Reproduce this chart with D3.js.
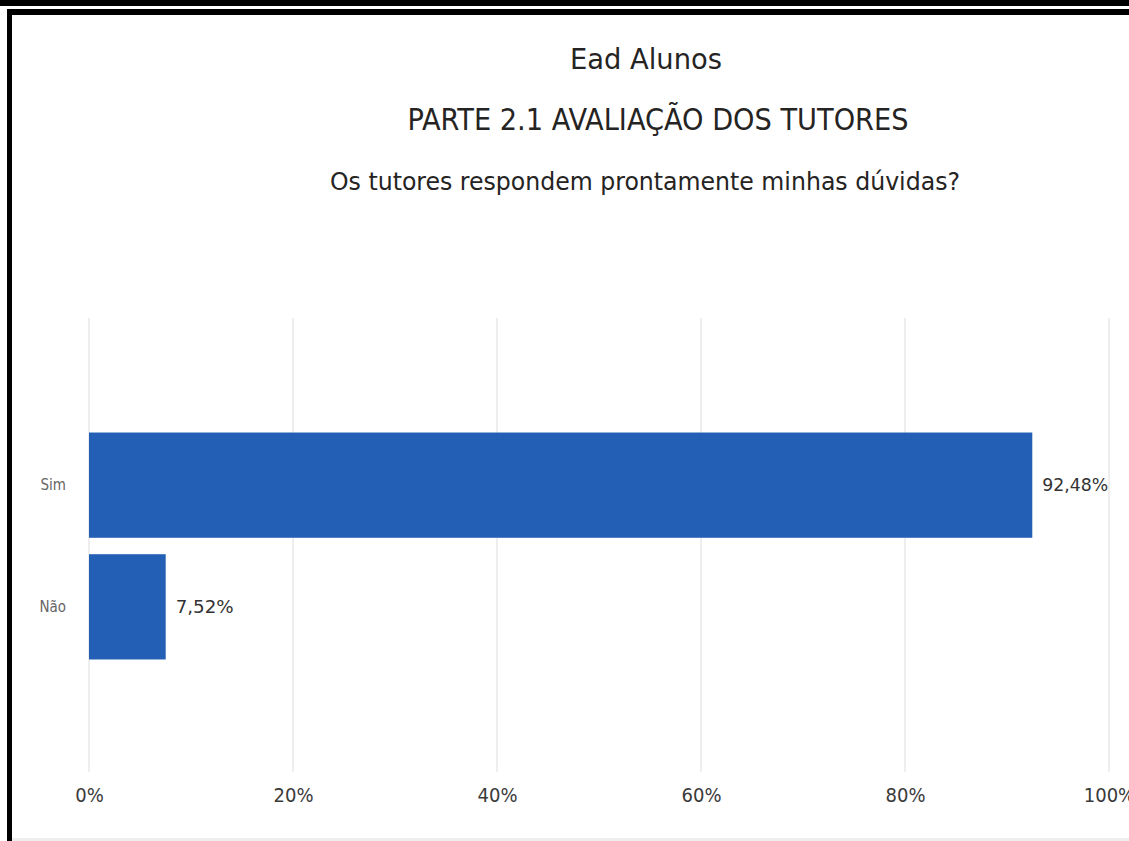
<!DOCTYPE html>
<html><head><meta charset="utf-8">
<script src="https://cdn.jsdelivr.net/npm/d3@7"></script>
<style>body{margin:0;background:#fff}svg{display:block}</style>
</head><body>
<svg id="c" width="1129" height="841"></svg>
<script>
const categories = ["Sim", "Não"];
const values = [92.48, 7.52];
const valueLabels = ["92,48%", "7,52%"];
const ticks = [0, 20, 40, 60, 80, 100];
const titles = ["Ead Alunos", "PARTE 2.1 AVALIAÇÃO DOS TUTORES", "Os tutores respondem prontamente minhas dúvidas?"];

const svg = d3.select("#c");
const font = "'DejaVu Sans Condensed','DejaVu Sans',sans-serif";

// frame
svg.append("rect").attr("x",0).attr("y",0).attr("width",1129).attr("height",6).attr("fill","#000");
svg.append("rect").attr("x",7).attr("y",9).attr("width",1122).attr("height",6).attr("fill","#000");
svg.append("rect").attr("x",7).attr("y",9).attr("width",5).attr("height",832).attr("fill","#000");
svg.append("rect").attr("x",12).attr("y",838).attr("width",1117).attr("height",3).attr("fill","#eee");

const x = d3.scaleLinear().domain([0,100]).range([89,1109]);
const y = d3.scaleBand().domain(categories).range([424,668]).paddingInner(0.135).paddingOuter(0.07);

// titles
const tdata = [
  {t:titles[0], x:646, y:69, s:29, w:152},
  {t:titles[1], x:658, y:130, s:30, w:501},
  {t:titles[2], x:645, y:190, s:24, w:630}
];
svg.selectAll("text.title").data(tdata).join("text").attr("class","title")
  .attr("x",d=>d.x).attr("y",d=>d.y).attr("text-anchor","middle")
  .attr("font-family",font).attr("font-size",d=>d.s).attr("fill","#252423")
  .attr("textLength",d=>d.w).attr("lengthAdjust","spacingAndGlyphs")
  .text(d=>d.t);

// gridlines
svg.selectAll("line.grid").data(ticks).join("line").attr("class","grid")
  .attr("x1",d=>x(d)).attr("x2",d=>x(d)).attr("y1",318).attr("y2",772)
  .attr("stroke","#e9e9e9").attr("stroke-width",1.5);

// x axis labels
const xa = svg.append("g").attr("transform","translate(0,802)")
  .call(d3.axisBottom(x).tickValues(ticks).tickSize(0).tickPadding(0).tickFormat(d=>d+"%"));
xa.select(".domain").remove();
xa.selectAll("text").attr("font-family",font).attr("font-size",20).attr("fill","#3a3a3a").attr("dy",0);

// bars
svg.selectAll("rect.bar").data(values).join("rect").attr("class","bar")
  .attr("x",x(0)).attr("y",(d,i)=>y(categories[i]))
  .attr("width",d=>x(d)-x(0)).attr("height",y.bandwidth()).attr("fill","#235fb4");

// category labels
const ya = svg.append("g").attr("transform","translate(66,0)")
  .call(d3.axisLeft(y).tickSize(0).tickPadding(0));
ya.select(".domain").remove();
ya.selectAll("text").attr("font-family",font).attr("font-size",15).attr("fill","#666");

// value labels
svg.selectAll("text.val").data(values).join("text").attr("class","val")
  .attr("x",d=>x(d)+10).attr("y",(d,i)=>y(categories[i])+y.bandwidth()/2)
  .attr("dy","0.35em").attr("font-family",font).attr("font-size",17).attr("fill","#333")
  .attr("textLength",(d,i)=>i===0?66:58).attr("lengthAdjust","spacingAndGlyphs")
  .text((d,i)=>valueLabels[i]);
</script>
</body></html>
